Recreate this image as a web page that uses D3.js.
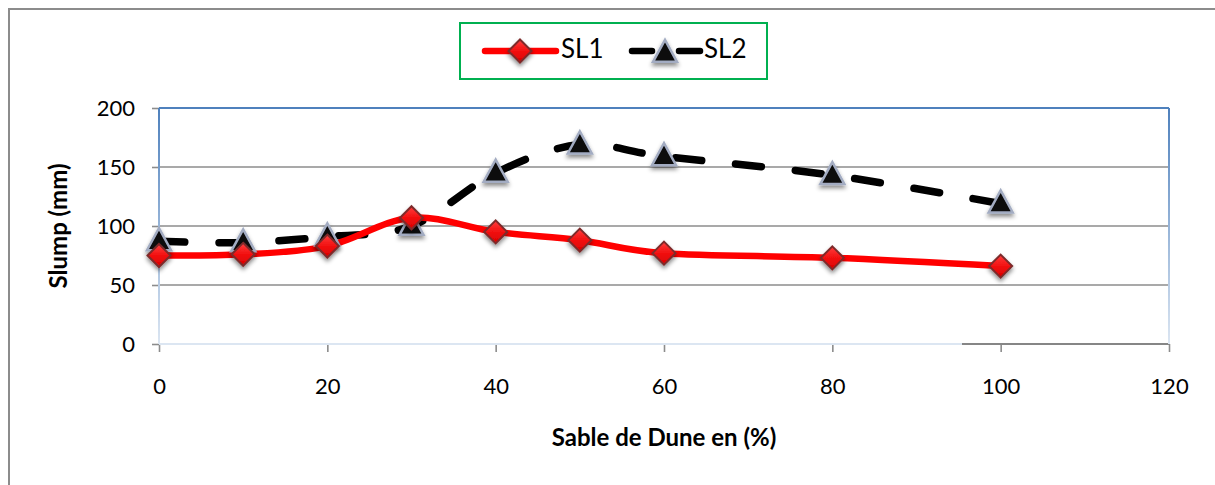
<!DOCTYPE html>
<html><head><meta charset="utf-8">
<script src="https://cdn.jsdelivr.net/npm/d3@7"></script>
<style>
html,body{margin:0;padding:0;background:#fff;}
svg{display:block;}
text{font-family:Lato,"Open Sans",sans-serif;fill:#000;}
</style></head>
<body>
<svg id="chart" width="1215" height="485"></svg>
<script>
const xValues = [0, 10, 20, 30, 40, 50, 60, 80, 100];
const sl1 = [75, 76, 83, 107, 95, 88, 77, 73, 66];
const sl2 = [87, 86, 91, 100, 145, 169, 159, 143, 119];
const xTicks = [0, 20, 40, 60, 80, 100, 120];
const yTicks = [0, 50, 100, 150, 200];
const seriesNames = ["SL1", "SL2"];
const xTitle = "Sable de Dune en (%)";
const yTitle = "Slump (mm)";

const svg = d3.select("#chart");
const W = 1215, H = 485;
const plot = {left: 159, right: 1169, top: 108, bottom: 344};
const x = d3.scaleLinear().domain([0, 120]).range([plot.left, plot.right]);
const y = d3.scaleLinear().domain([0, 200]).range([plot.bottom, plot.top]);

const defs = svg.append("defs");
const sh = defs.append("filter").attr("id","shadow").attr("x","-50%").attr("y","-50%").attr("width","200%").attr("height","200%");
sh.append("feDropShadow").attr("dx",0).attr("dy",3).attr("stdDeviation",2).attr("flood-color","#000").attr("flood-opacity",0.45);

const vg = defs.append("linearGradient").attr("id","vborder").attr("gradientUnits","userSpaceOnUse")
  .attr("x1",0).attr("y1",plot.top).attr("x2",0).attr("y2",plot.bottom);
vg.append("stop").attr("offset",0).attr("stop-color","#4f81bd");
vg.append("stop").attr("offset",1).attr("stop-color","#dce6f2");

const hg = defs.append("linearGradient").attr("id","hborder").attr("gradientUnits","userSpaceOnUse")
  .attr("x1",plot.left).attr("y1",0).attr("x2",plot.right).attr("y2",0);
hg.append("stop").attr("offset",0).attr("stop-color","#dce6f2");
hg.append("stop").attr("offset",0.795).attr("stop-color","#dce6f2");
hg.append("stop").attr("offset",0.795).attr("stop-color","#868686");
hg.append("stop").attr("offset",1).attr("stop-color","#868686");

const dg = defs.append("linearGradient").attr("id","diamondFill").attr("x1",0).attr("y1",0).attr("x2",0).attr("y2",1);
dg.append("stop").attr("offset",0).attr("stop-color","#ff4040");
dg.append("stop").attr("offset",0.5).attr("stop-color","#f21010");
dg.append("stop").attr("offset",1).attr("stop-color","#d80000");

// outer chart border
svg.append("rect").attr("x",9).attr("y",9).attr("width",W+20).attr("height",H+20)
  .attr("fill","none").attr("stroke","#8c8c8c").attr("stroke-width",2);

// gridlines
svg.append("g").selectAll("line").data(yTicks.filter(d => d > 0 && d < 200)).join("line")
  .attr("x1",plot.left).attr("x2",plot.right).attr("y1",d=>y(d)).attr("y2",d=>y(d))
  .attr("stroke","#8c8c8c").attr("stroke-width",1.6);

// y axis
const yAxis = svg.append("g").attr("transform",`translate(${plot.left},0)`)
  .call(d3.axisLeft(y).tickValues(yTicks).tickSize(7).tickPadding(17).tickFormat(d3.format("d")));
yAxis.select(".domain").remove();
yAxis.selectAll(".tick line").attr("stroke","#8c8c8c").attr("stroke-width",1.6);
yAxis.selectAll(".tick text").attr("font-size",22).attr("font-family","Lato").attr("fill","#000");

// x axis
const xAxis = svg.append("g").attr("transform",`translate(0,${plot.bottom})`)
  .call(d3.axisBottom(x).tickValues(xTicks).tickSize(8).tickPadding(0).tickFormat(d3.format("d")));
xAxis.select(".domain").remove();
xAxis.selectAll(".tick line").attr("stroke","#8c8c8c").attr("stroke-width",1.6);
xAxis.selectAll(".tick text").attr("font-size",22).attr("font-family","Lato").attr("fill","#000")
  .attr("y",44).attr("dy",null).attr("dominant-baseline","middle");

// plot border
svg.append("line").attr("x1",plot.left).attr("x2",plot.right).attr("y1",plot.bottom).attr("y2",plot.bottom)
  .attr("stroke","url(#hborder)").attr("stroke-width",2);
svg.append("line").attr("x1",plot.left).attr("x2",plot.right).attr("y1",plot.top).attr("y2",plot.top)
  .attr("stroke","#4f81bd").attr("stroke-width",2);
[plot.left, plot.right].forEach(px => {
  svg.append("line").attr("x1",px).attr("x2",px).attr("y1",plot.top).attr("y2",plot.bottom)
    .attr("stroke","url(#vborder)").attr("stroke-width",2);
});

// titles
svg.append("text").attr("x",(plot.left+plot.right)/2).attr("y",440)
  .attr("text-anchor","middle").attr("dominant-baseline","middle")
  .attr("font-size",24).attr("font-weight","bold").text(xTitle);
svg.append("text").attr("transform",`translate(61,${(plot.top+plot.bottom)/2}) rotate(-90)`)
  .attr("text-anchor","middle").attr("dominant-baseline","middle")
  .attr("font-size",24).attr("font-weight","bold").text(yTitle);

// lines
const curve = d3.curveCardinal.tension(0);
const line1 = d3.line().x((d,i)=>x(xValues[i])).y(d=>y(d)).curve(curve);
svg.append("path").datum(sl2).attr("d",line1).attr("fill","none").attr("stroke","#000")
  .attr("stroke-width",7.5).attr("stroke-linecap","round").attr("stroke-dasharray","26,34");
svg.append("path").datum(sl1).attr("d",line1).attr("fill","none").attr("stroke","#ff0000")
  .attr("stroke-width",6.5).attr("stroke-linecap","round");

function diamond(g, cx, cy) {
  const r = 11.5;
  g.append("path").attr("d",`M${cx},${cy-r}L${cx+r},${cy}L${cx},${cy+r}L${cx-r},${cy}Z`)
    .attr("fill","url(#diamondFill)").attr("stroke","#7d2b2b").attr("stroke-width",2)
    .attr("filter","url(#shadow)");
}
function triangle(g, cx, cy) {
  const hw = 12, h = 22;
  g.append("path").attr("d",`M${cx},${cy-h*0.6}L${cx+hw},${cy+h*0.4}L${cx-hw},${cy+h*0.4}Z`)
    .attr("fill","#0a0a0a").attr("stroke","#a3acc2").attr("stroke-width",2.5).attr("stroke-linejoin","miter")
    .attr("filter","url(#shadow)");
}

const m2 = svg.append("g");
sl2.forEach((v,i)=>triangle(m2, x(xValues[i]), y(v)));
const m1 = svg.append("g");
sl1.forEach((v,i)=>diamond(m1, x(xValues[i]), y(v)));

// legend
const lg = svg.append("g");
lg.append("rect").attr("x",460).attr("y",23).attr("width",307).attr("height",56)
  .attr("fill","#fff").attr("stroke","#00b050").attr("stroke-width",2);
lg.append("line").attr("x1",485).attr("x2",556).attr("y1",51).attr("y2",51)
  .attr("stroke","#ff0000").attr("stroke-width",6.5).attr("stroke-linecap","round");
diamond(lg, 520, 51);
lg.append("text").attr("x",561).attr("y",51).attr("dominant-baseline","middle").attr("font-size",26).text(seriesNames[0]);
lg.append("line").attr("x1",632).attr("x2",652).attr("y1",51).attr("y2",51)
  .attr("stroke","#000").attr("stroke-width",6.5).attr("stroke-linecap","round");
lg.append("line").attr("x1",679).attr("x2",700).attr("y1",51).attr("y2",51)
  .attr("stroke","#000").attr("stroke-width",6.5).attr("stroke-linecap","round");
triangle(lg, 665, 53);
lg.append("text").attr("x",704).attr("y",51).attr("dominant-baseline","middle").attr("font-size",26).text(seriesNames[1]);
</script>
</body></html>
